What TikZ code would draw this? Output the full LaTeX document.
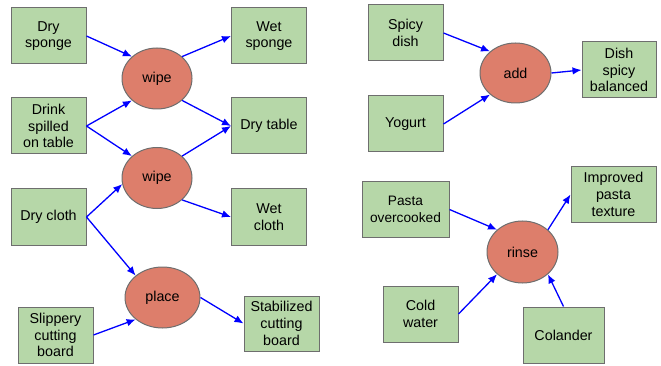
\documentclass[tikz,border=0pt]{standalone}
\usepackage{fontspec}
\setmainfont{Liberation Sans}
\usetikzlibrary{shapes.geometric,arrows.meta}
\definecolor{boxfill}{HTML}{B6D7A8}
\definecolor{actfill}{HTML}{DD7E6B}
\definecolor{edgegray}{HTML}{6E6E6E}
\tikzset{
  thing/.style={draw=edgegray, fill=boxfill, line width=1pt, minimum width=75pt,
    minimum height=56pt, align=center, inner sep=1pt,
    font=\fontsize{14.3}{16.8}\selectfont},
  act/.style={ellipse, draw=edgegray, fill=actfill, line width=1pt, minimum width=70pt,
    minimum height=61pt, inner sep=0pt, font=\fontsize{14.3}{16.8}\selectfont},
  flow/.style={-{Latex[length=9pt,width=7.5pt]}, blue, line width=1.3pt}
}
\begin{document}
\begin{tikzpicture}[x=1pt,y=-1pt]
    \useasboundingbox (0,0) rectangle (661,366);
    % wiping the table
    \node[thing] (drysponge) at (48.5,36) {Dry\\sponge};
    \node[thing] (spilled) at (48.5,126) {Drink\\spilled\\on table};
    \node[thing] (drycloth) at (48.5,217) {Dry cloth};
    \node[thing] (slippery) at (55.5,335) {Slippery\\cutting\\board};
    \node[act] (wipeA) at (157,78.5) {wipe};
    \node[act] (wipeB) at (157,178) {wipe};
    \node[act, minimum width=75pt] (place) at (162.5,297.5) {place};
    \node[thing] (wetsponge) at (269,36) {Wet\\sponge};
    \node[thing] (drytable) at (269,126) {Dry table};
    \node[thing] (wetcloth) at (269,217) {Wet\\cloth};
    \node[thing, minimum height=55pt] (stable) at (281.5,323.5) {Stabilized\\cutting\\board};
    \draw[flow] (drysponge.east) -- (wipeA.north west);
    \draw[flow] (spilled.east) -- (wipeA.south west);
    \draw[flow] (spilled.east) -- (wipeB.north west);
    \draw[flow] (wipeA.north east) -- (wetsponge.west);
    \draw[flow] (wipeA.south east) -- (drytable.west);
    \draw[flow] (wipeB.north east) -- (drytable.west);
    \draw[flow] (drycloth.east) -- (wipeB.190);
    \draw[flow] (wipeB.south east) -- (wetcloth.west);
    \draw[flow] (drycloth.east) -- (place.north west);
    \draw[flow] (slippery.east) -- (place.south west);
    \draw[flow] (place.east) -- (stable.west);
    % spicy dish
    \node[thing] (spicy) at (405.5,33) {Spicy\\dish};
    \node[thing] (yogurt) at (405.5,124) {Yogurt};
    \node[act, minimum width=71pt, minimum height=60pt] (add) at (515.5,73) {add};
    \node[thing, minimum width=74pt] (balanced) at (619,70) {Dish\\spicy\\balanced};
    \draw[flow] (spicy.east) -- (add.north west);
    \draw[flow] (yogurt.east) -- (add.south west);
    \draw[flow] (add.east) -- (balanced.west);
    % pasta
    \node[thing, minimum width=87pt, font=\fontsize{13.7}{16.8}\selectfont] (pasta) at (405.5,209.5) {Pasta\\overcooked};
    \node[thing] (coldwater) at (420.5,314) {Cold\\water};
    \node[thing, minimum width=81pt] (colander) at (563.5,335) {Colander};
    \node[act, minimum width=71pt, minimum height=62pt] (rinse) at (522.5,252) {rinse};
    \node[thing, minimum width=85pt, minimum height=55pt] (texture) at (613.5,194.5) {Improved\\pasta\\texture};
    \draw[flow] (pasta.east) -- (rinse.north west);
    \draw[flow] (coldwater.east) -- (rinse.south west);
    \draw[flow] (colander.north) -- (rinse.south east);
    \draw[flow] (rinse.north east) -- (texture.west);
\end{tikzpicture}
\end{document}
